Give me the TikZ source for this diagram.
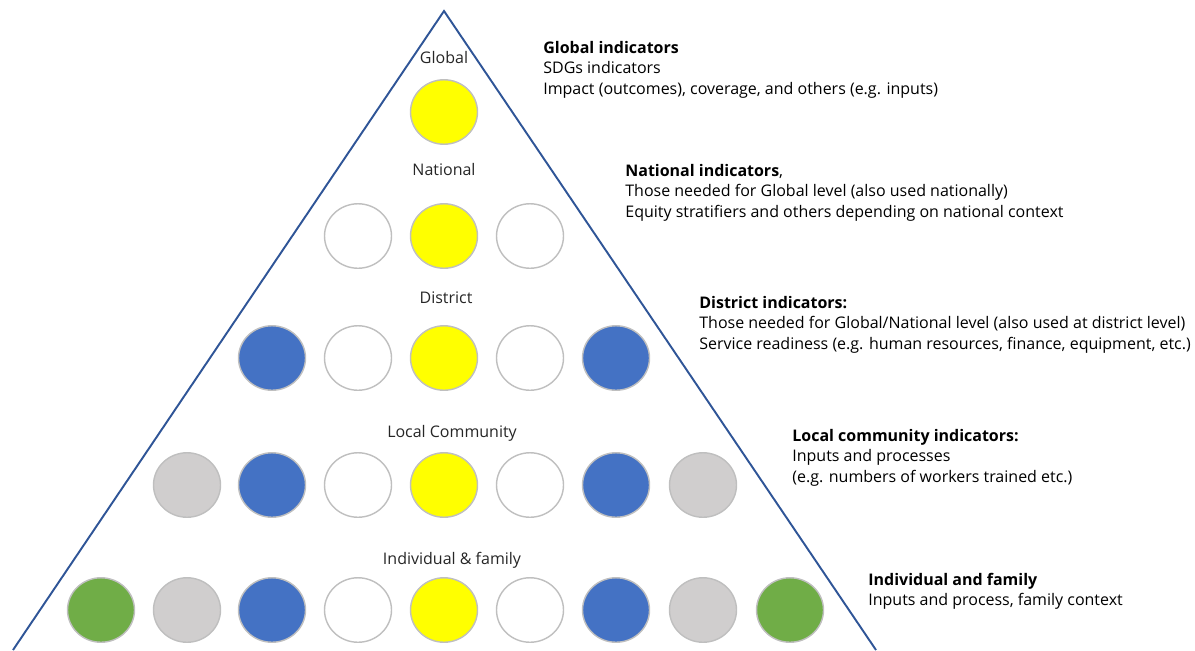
\documentclass[tikz,border=0pt]{standalone}
\usepackage{fontspec}
\setmainfont{Open Sans}
\usetikzlibrary{shapes.geometric}
\definecolor{edgeblue}{HTML}{2F5597}
\definecolor{dotyellow}{HTML}{FFFF00}
\definecolor{dotblue}{HTML}{4472C4}
\definecolor{dotgray}{HTML}{D0CECE}
\definecolor{dotgreen}{HTML}{70AD47}
\definecolor{dotrim}{HTML}{BFBFBF}
\definecolor{inktext}{HTML}{262626}
\tikzset{
	dot/.style={ellipse, draw=dotrim, line width=0.8pt, minimum width=1.34cm, minimum height=1.29cm, inner sep=0pt},
	level/.style={anchor=base, inner sep=0pt, text=inktext, font=\fontsize{9.1}{11.6}\selectfont},
	info/.style={anchor=north west, inner sep=0pt, align=left, text=black, font=\fontsize{9.1}{11.6}\selectfont}
}

\begin{document}
\begin{tikzpicture}[x=0.02cm, y=-0.02cm]
		%%%%% START %%%%%
		\useasboundingbox (0, 0) rectangle (1195, 650);
		
		\coordinate (apex) at (444, 11);
		\coordinate (botL) at (13, 650);
		\coordinate (botR) at (876, 650);
		\draw[line width=1.1pt, color=edgeblue] (botL) -- (apex) -- (botR);
		
		\node[level] (lvGlobal) at (444, 63) {Global};
		\node[level] (lvNational) at (444, 175) {National};
		\node[level] (lvDistrict) at (446, 303) {District};
		\node[level] (lvLocal) at (452, 437) {Local Community};
		\node[level] (lvFamily) at (452, 564) {Individual \& family};
		
		\node[dot, fill=dotyellow] (g1) at (444, 112) {};
		
		\node[dot, fill=white] (n1) at (358, 236) {};
		\node[dot, fill=dotyellow] (n2) at (444, 236) {};
		\node[dot, fill=white] (n3) at (530, 236) {};
		
		\node[dot, fill=dotblue] (d1) at (272, 358) {};
		\node[dot, fill=white] (d2) at (358, 358) {};
		\node[dot, fill=dotyellow] (d3) at (444, 358) {};
		\node[dot, fill=white] (d4) at (530, 358) {};
		\node[dot, fill=dotblue] (d5) at (616, 358) {};
		
		\node[dot, fill=dotgray] (c1) at (187, 485) {};
		\node[dot, fill=dotblue] (c2) at (272, 485) {};
		\node[dot, fill=white] (c3) at (358, 485) {};
		\node[dot, fill=dotyellow] (c4) at (444, 485) {};
		\node[dot, fill=white] (c5) at (530, 485) {};
		\node[dot, fill=dotblue] (c6) at (616, 485) {};
		\node[dot, fill=dotgray] (c7) at (703, 485) {};
		
		\node[dot, fill=dotgreen] (f1) at (101, 610) {};
		\node[dot, fill=dotgray] (f2) at (187, 610) {};
		\node[dot, fill=dotblue] (f3) at (272, 610) {};
		\node[dot, fill=white] (f4) at (358, 610) {};
		\node[dot, fill=dotyellow] (f5) at (444, 610) {};
		\node[dot, fill=white] (f6) at (530, 610) {};
		\node[dot, fill=dotblue] (f7) at (616, 610) {};
		\node[dot, fill=dotgray] (f8) at (703, 610) {};
		\node[dot, fill=dotgreen] (f9) at (790, 610) {};
		
		% indicator texts
		\node[info] (txGlobal) at (543, 41) {\textbf{Global indicators}\\SDGs indicators\\Impact (outcomes), coverage, and others (e.g. inputs)};
		\node[info] (txNational) at (625, 164) {\textbf{National indicators},\\Those needed for Global level (also used nationally)\\Equity stratifiers and others depending on national context};
		\node[info] (txDistrict) at (699, 296) {\textbf{District indicators:}\\Those needed for Global/National level (also used at district level)\\Service readiness (e.g. human resources, finance, equipment, etc.)};
		\node[info] (txLocal) at (792, 429) {\textbf{Local community indicators:}\\Inputs and processes\\(e.g. numbers of workers trained etc.)};
		\node[info] (txFamily) at (868, 573) {\textbf{Individual and family}\\Inputs and process, family context};
		
		%%%%% END %%%%%
	\end{tikzpicture}
\end{document}
